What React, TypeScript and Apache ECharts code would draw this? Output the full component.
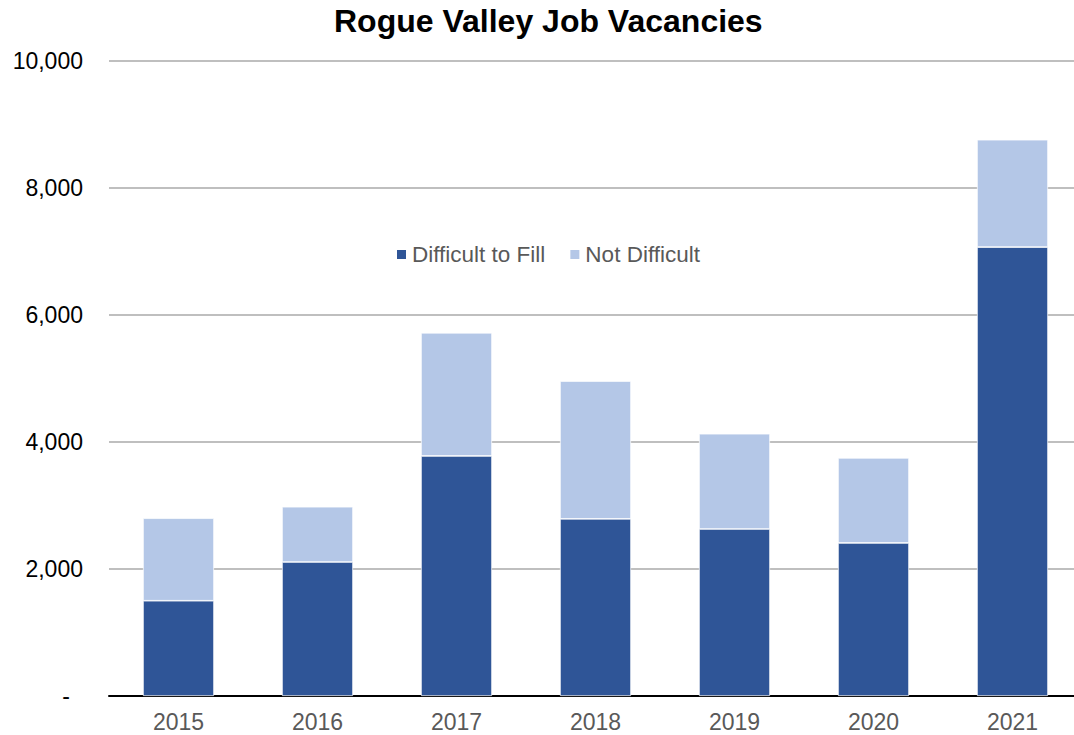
import React, { useEffect, useRef } from "react";
import * as echarts from "echarts";

const years = ["2015", "2016", "2017", "2018", "2019", "2020", "2021"];
const difficult = [1500, 2110, 3780, 2790, 2630, 2410, 7070];
const notDifficult = [1300, 870, 1940, 2170, 1500, 1340, 1690];
const seriesNames = ["Difficult to Fill", "Not Difficult"];
const colors = ["#2F5597", "#B4C7E7"];

export default function App() {
  const ref = useRef<HTMLDivElement>(null);
  useEffect(() => {
    const chart = echarts.init(ref.current!, null, { renderer: "svg" });
    const font = "'Liberation Sans', Arial, sans-serif";
    chart.setOption({
      animation: false,
      textStyle: { fontFamily: font },
      title: {
        text: "Rogue Valley Job Vacancies",
        left: 329,
        top: 0,
        textStyle: { fontFamily: font, fontSize: 32, fontWeight: "bold", color: "#000" },
      },
      legend: {
        data: seriesNames,
        top: 238,
        left: 390,
        itemWidth: 11,
        itemHeight: 11,
        itemGap: 23,
        icon: "rect",
        textStyle: { fontFamily: font, fontSize: 22.5, color: "#595959" },
      },
      grid: { left: 109, right: 0, top: 61, bottom: 39 },
      xAxis: {
        type: "category",
        data: years,
        axisLine: { lineStyle: { color: "#000", width: 2 } },
        axisTick: { show: false },
        axisLabel: { fontFamily: font, fontSize: 23, color: "#595959", margin: 14 },
      },
      yAxis: {
        type: "value",
        min: 0,
        max: 10000,
        interval: 2000,
        axisLine: { show: false },
        axisTick: { show: false },
        splitLine: { lineStyle: { color: "#BFBFBF", width: 2 } },
        axisLabel: {
          fontFamily: font,
          fontSize: 23,
          color: "#000",
          margin: 26,
          formatter: (v: number) =>
            v === 0 ? "{z|-}" : v.toLocaleString("en-US"),
          rich: { z: { fontFamily: font, fontSize: 23, color: "#000", padding: [0, 13, 0, 0] } },
        },
      },
      series: [
        {
          name: seriesNames[0],
          type: "bar",
          stack: "total",
          data: difficult,
          barWidth: 71,
          itemStyle: { color: colors[0], borderColor: "#fff", borderWidth: 0.7 },
        },
        {
          name: seriesNames[1],
          type: "bar",
          stack: "total",
          data: notDifficult,
          barWidth: 71,
          itemStyle: { color: colors[1], borderColor: "#fff", borderWidth: 0.7 },
        },
      ],
    });
    return () => chart.dispose();
  }, []);
  return (
    <div style={{ width: 1074, height: 735, position: "absolute", left: 0, top: 0, overflow: "hidden" }}>
      <div ref={ref} style={{ width: 1082, height: 735 }} />
    </div>
  );
}
